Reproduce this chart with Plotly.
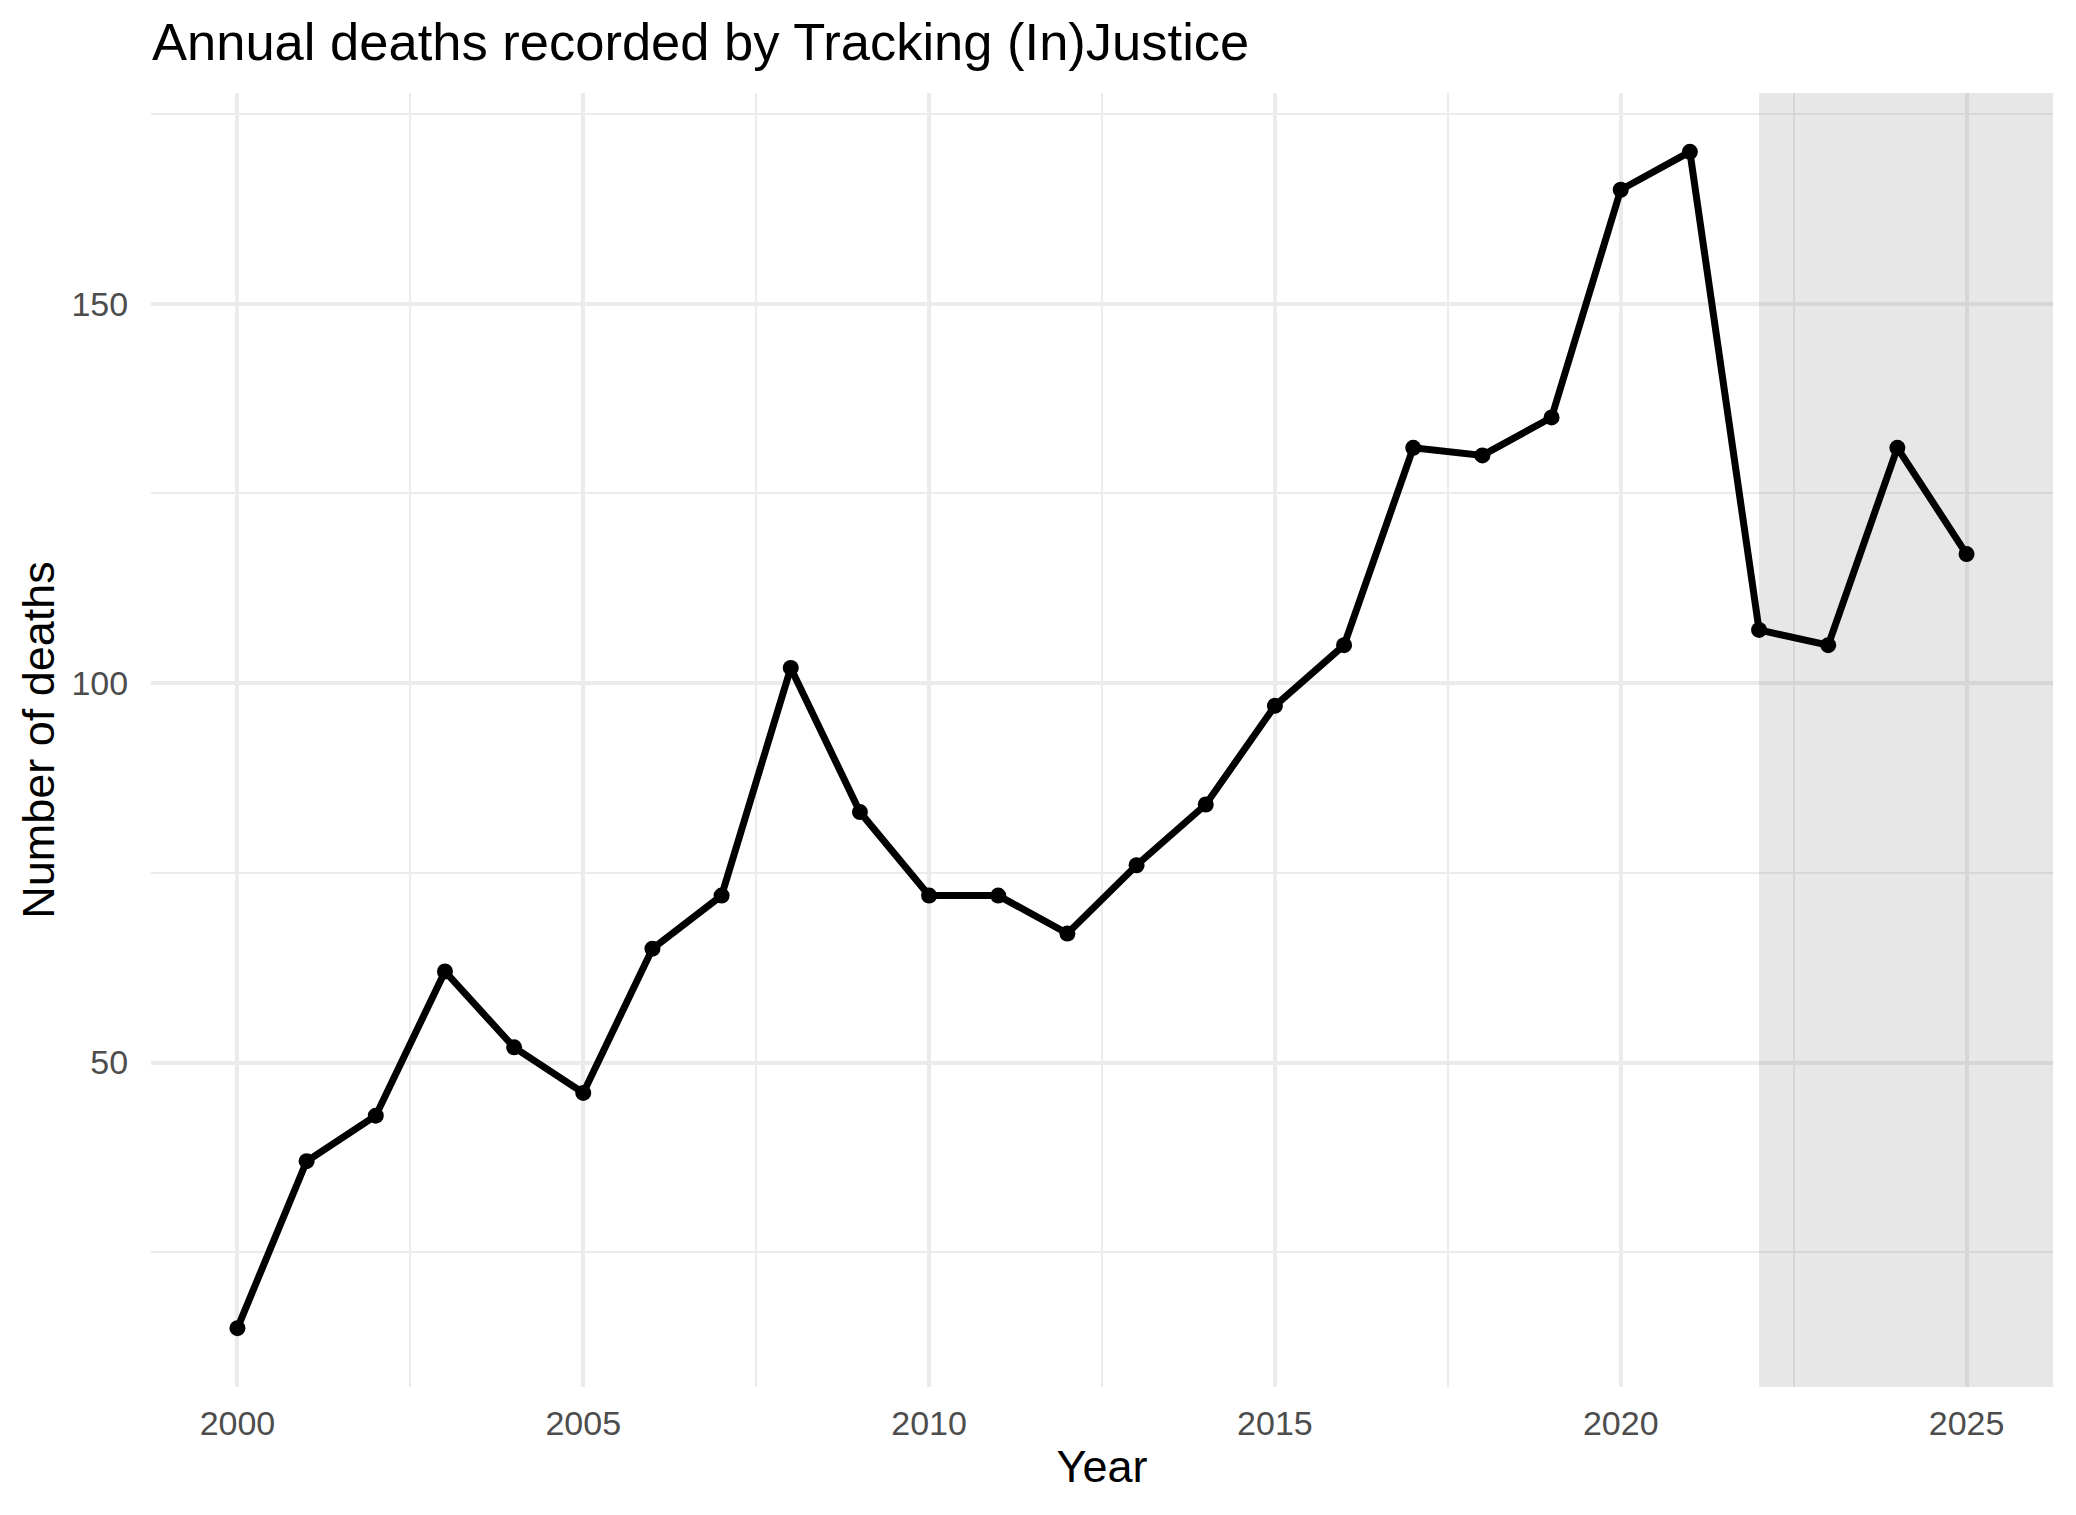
import plotly.graph_objects as go

years = [2000, 2001, 2002, 2003, 2004, 2005, 2006, 2007, 2008, 2009,
         2010, 2011, 2012, 2013, 2014, 2015, 2016, 2017, 2018, 2019,
         2020, 2021, 2022, 2023, 2024, 2025]
deaths = [15, 37, 43, 62, 52, 46, 65, 72, 102, 83,
          72, 72, 67, 76, 84, 97, 105, 131, 130, 135,
          165, 170, 107, 105, 131, 117]

x_ticks = [2000, 2005, 2010, 2015, 2020, 2025]
y_ticks = [50, 100, 150]
shade_start = 2022

title_text = "Annual deaths recorded by Tracking (In)Justice"
x_title = "Year"
y_title = "Number of deaths"

# ggplot-like 5% expansion
span_x = max(years) - min(years)
x_range = [min(years) - 0.05 * span_x, max(years) + 0.05 * span_x]
span_y = max(deaths) - min(deaths)
y_range = [min(deaths) - 0.05 * span_y, max(deaths) + 0.05 * span_y]

grid = "#EBEBEB"
font = "Liberation Sans"

# page body has an 8px margin, so the figure is a bit smaller than the window
W, H = 2068, 1507

fig = go.Figure()

# shaded period: drawn as a filled trace so it sits over the grid but under the line
fig.add_trace(go.Scatter(
    x=[shade_start, shade_start, x_range[1], x_range[1], shade_start],
    y=[y_range[0], y_range[1], y_range[1], y_range[0], y_range[0]],
    mode="none", fill="toself",
    fillcolor="rgba(127,127,127,0.19)",
    hoverinfo="skip", showlegend=False,
))

fig.add_trace(go.Scatter(
    x=years, y=deaths,
    mode="lines+markers",
    line=dict(color="black", width=7),
    marker=dict(color="black", size=16),
    showlegend=False,
))

fig.update_layout(
    width=W, height=H,
    margin=dict(l=143, r=23, t=85, b=128),
    paper_bgcolor="white", plot_bgcolor="white",
    font=dict(family=font, color="black"),
    title=dict(
        text=title_text, font=dict(size=52.5, color="black"),
        x=144 / W, xref="container", xanchor="left",
        y=1 - 34 / H, yref="container", yanchor="middle",
    ),
)

fig.update_xaxes(
    range=x_range, tickvals=x_ticks,
    ticks="outside", ticklen=6, tickcolor="rgba(0,0,0,0)",
    tickfont=dict(size=34, color="#4D4D4D"),
    showgrid=True, gridcolor=grid, gridwidth=4,
    minor=dict(dtick=2.5, tick0=2000, showgrid=True, gridcolor=grid, gridwidth=2),
    zeroline=False, showline=False,
    title=dict(text=x_title, font=dict(size=45, color="black"), standoff=9),
)
fig.update_yaxes(
    range=y_range, tickvals=y_ticks,
    ticks="outside", ticklen=15, tickcolor="rgba(0,0,0,0)",
    tickfont=dict(size=34, color="#4D4D4D"),
    showgrid=True, gridcolor=grid, gridwidth=4,
    minor=dict(dtick=25, tick0=0, showgrid=True, gridcolor=grid, gridwidth=2),
    zeroline=False, showline=False,
    title=dict(text=y_title, font=dict(size=45, color="black"), standoff=2),
)

fig.write_html("out.html")
